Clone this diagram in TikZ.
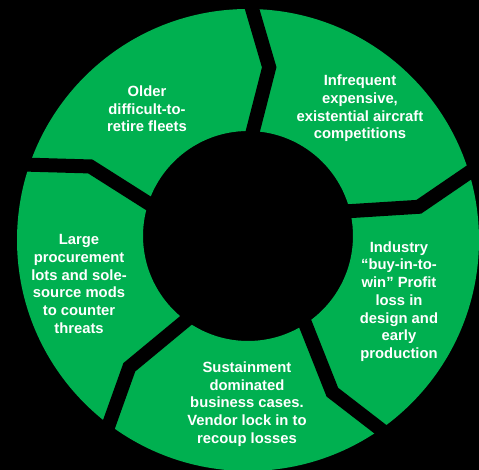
\documentclass[tikz,border=0pt]{standalone}
\usepackage{fontspec}
\setmainfont{Liberation Sans}
\usetikzlibrary{calc}
\definecolor{ringgreen}{RGB}{0,176,80}
\begin{document}
\begin{tikzpicture}[x=1pt,y=1pt,
  lbl/.style={text=white, font=\fontsize{14.8}{17.7}\selectfont\bfseries, align=center, inner sep=0pt},
  gapband/.style={draw=black, line width=14pt, line join=miter, miter limit=10}]
\fill[black] (0,0) rectangle (479,470);
\useasboundingbox (0,0) rectangle (479,470);
\coordinate (oc) at (248,230);
\coordinate (ic) at (248,234);
\fill[ringgreen, even odd rule] (oc) circle (231pt) (ic) circle (105pt);
\foreach \a in {90,18,-54,-126,162}{
  \draw[gapband] ($(oc)+(\a:245pt)$) -- ($(oc)+(\a-7:174pt)$) -- ($(oc)+(\a:90pt)$);
}
\node[lbl] (older) at (147,361) {Older\\difficult-to-\\retire fleets};
\node[lbl] (infreq) at (360,361.5) {Infrequent\\expensive,\\existential aircraft\\competitions};
\node[lbl] (industry) at (399,168.5) {Industry\\“buy-in-to-\\win” Profit\\loss in\\design and\\early\\production};
\node[lbl] (sustain) at (247,66) {Sustainment\\dominated\\business cases.\\Vendor lock in to\\recoup losses};
\node[lbl] (large) at (79,186) {Large\\procurement\\lots and sole-\\source mods\\to counter\\threats};
\end{tikzpicture}
\end{document}
